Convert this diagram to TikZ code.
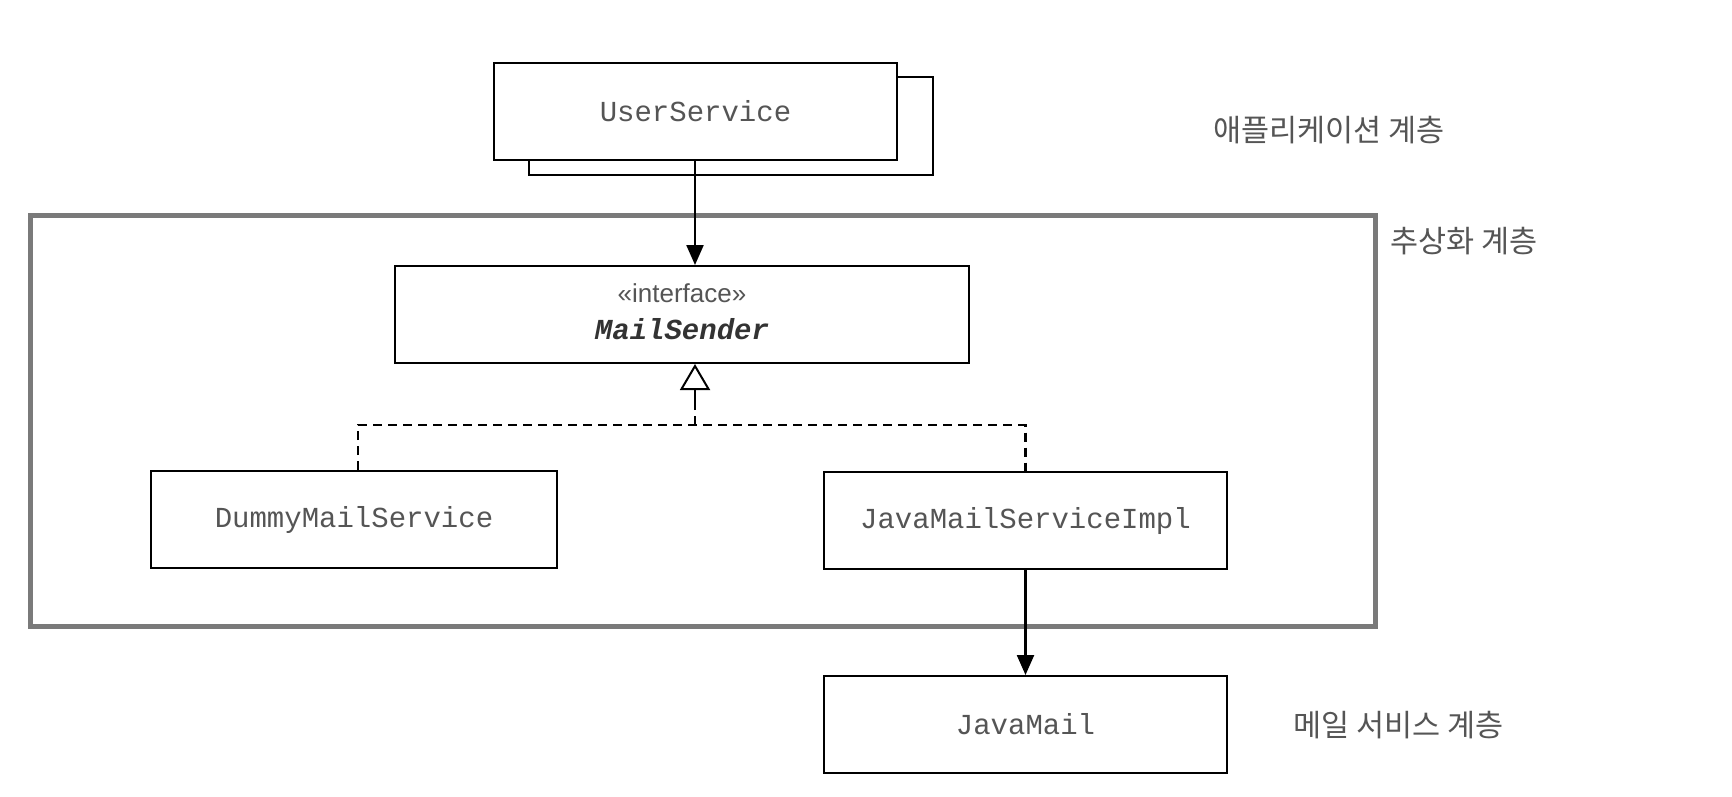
\documentclass[tikz,border=0pt]{standalone}
\usepackage{fontspec}
\setmainfont{Liberation Sans}
\setmonofont{Liberation Mono}
\newfontfamily\kr{Noto Sans CJK KR}
\usetikzlibrary{arrows.meta}
\definecolor{txt}{HTML}{555555}
\definecolor{frame}{HTML}{7A7A7A}
\tikzset{
  box/.style={draw=black, line width=2pt, fill=white, inner sep=0pt},
  monotext/.style={font=\ttfamily\fontsize{29}{34}\selectfont, text=txt},
  layerlabel/.style={font=\kr\fontsize{30.5}{36}\selectfont, text=txt, anchor=west},
  usearrow/.style={line width=2.3pt, -{Triangle[length=20pt,width=17pt]}},
  realize/.style={line width=2.2pt, dash pattern=on 9pt off 6pt},
  realizehead/.style={line width=2pt, -{Triangle[open,length=26pt,width=30pt]}},
}
\begin{document}
\begin{tikzpicture}[x=1pt,y=-1pt]
\useasboundingbox (0,0) rectangle (1732,796);
% abstraction frame
\node[draw=frame, line width=5pt, minimum width=1345pt, minimum height=411pt, inner sep=0pt] (frame) at (702.5,420.5) {};
% UserService (stacked)
\node[box, minimum width=404pt, minimum height=98pt] (usback) at (731,126) {};
\node[box, minimum width=403pt, minimum height=97pt, monotext] (us) at (695.5,111.5) {UserService};
% MailSender interface
\node[box, minimum width=574pt, minimum height=97pt] (ms) at (682,314.5) {};
\node[anchor=base, font=\fontsize{26}{30}\selectfont, text=txt] (stereo) at (682,302) {«interface»};
\node[anchor=base, font=\ttfamily\bfseries\itshape\fontsize{29}{34}\selectfont, text=black!80] (msname) at (682,339) {MailSender};
% implementations
\node[box, minimum width=406pt, minimum height=97pt, monotext] (dummy) at (354,519.5) {DummyMailService};
\node[box, minimum width=403pt, minimum height=97pt, monotext] (jmsi) at (1025.5,520.5) {JavaMailServiceImpl};
\node[box, minimum width=403pt, minimum height=97pt, monotext] (jm) at (1025.5,724.5) {JavaMail};
% connectors
\coordinate (usx) at (695,0);
\coordinate (join) at (695,425);
\coordinate (dx) at (358,0);
\draw[usearrow] (us.south -| usx) -- (ms.north -| usx);
\draw[realize] (dummy.north -| dx) |- (join) -| (jmsi.north);
\draw[realize] (join) -- ++(0,-30);
\draw[realizehead] ([yshift=-40pt]ms.south -| usx) -- (ms.south -| usx);
\draw[usearrow] (jmsi.south) -- (jm.north);
% layer labels
\node[layerlabel] (l1) at (1210,130) {애플리케이션 계층};
\node[layerlabel] (l2) at (1387,241) {추상화 계층};
\node[layerlabel] (l3) at (1290,725) {메일 서비스 계층};
\end{tikzpicture}
\end{document}
